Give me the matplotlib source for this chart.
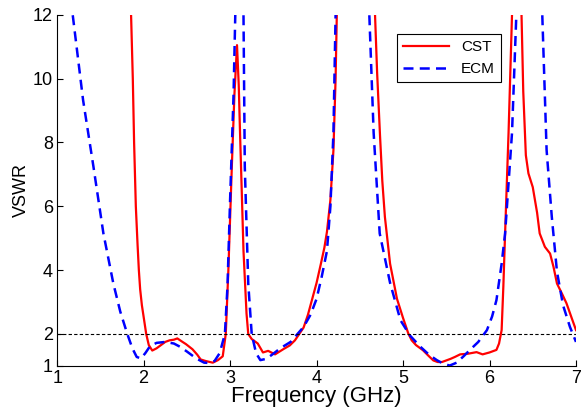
import numpy as np
import matplotlib
matplotlib.use('Agg')
import matplotlib.pyplot as plt

plt.rcParams['font.family'] = ['Liberation Sans', 'DejaVu Sans']

# CST (simulado)
cst_f = [1.83, 1.855, 1.875, 1.89, 1.91, 1.93, 1.945, 1.96, 1.98, 2.03, 2.06, 2.1, 2.15, 2.2, 2.25,
         2.3, 2.35, 2.39, 2.45, 2.49, 2.565, 2.62, 2.66, 2.72, 2.8, 2.86, 2.915, 2.95,
         2.98, 3.02, 3.05, 3.08, 3.1, 3.115, 3.155, 3.19, 3.21, 3.25, 3.32, 3.38, 3.44,
         3.52, 3.62, 3.69, 3.75, 3.8, 3.85, 3.9, 3.96, 4.0, 4.05, 4.09, 4.12, 4.16, 4.195, 4.22,
         4.234, 4.26, 4.65, 4.676, 4.7, 4.734, 4.76, 4.79, 4.85, 4.93, 5.0, 5.06, 5.1, 5.15,
         5.23, 5.3, 5.35, 5.4, 5.45, 5.5, 5.55, 5.6, 5.66, 5.75, 5.85, 5.92, 6.0, 6.08,
         6.11, 6.14, 6.16, 6.18, 6.22, 6.26, 6.28, 6.35, 6.37, 6.39, 6.42, 6.45, 6.5,
         6.55, 6.58, 6.64, 6.7, 6.74, 6.78, 6.84, 6.89, 6.95, 7.0]
cst_vswr = [14, 12, 10, 8, 6, 4.8, 4, 3.4, 2.9, 2, 1.65, 1.48, 1.55, 1.65, 1.75,
            1.8, 1.82, 1.86, 1.75, 1.68, 1.52, 1.35, 1.2, 1.15, 1.1, 1.18, 1.3, 2.0,
            4.0, 7.24, 9.5, 11.05, 9.8, 8.3, 4.6, 2.64, 2.0, 1.84, 1.7, 1.42, 1.47,
            1.36, 1.53, 1.64, 1.8, 2.0, 2.2, 2.6, 3.2, 3.6, 4.2, 4.7, 5.2, 6.2, 7.76, 10,
            12, 15, 15, 12, 10.2, 8.2, 6.8, 5.67, 4.2, 3.1, 2.5, 2.02, 1.8, 1.65,
            1.49, 1.3, 1.17, 1.12, 1.12, 1.17, 1.22, 1.28, 1.36, 1.38, 1.43, 1.36, 1.42, 1.5,
            1.7, 2.12, 3.5, 5.15, 8.3, 12, 15, 15, 12, 9.6, 7.6, 7.03, 6.6,
            5.8, 5.15, 4.73, 4.52, 4.1, 3.58, 3.25, 2.96, 2.5, 2.12]

# ECM (circuito equivalente)
ecm_f = [1.17, 1.18, 1.3, 1.42, 1.535, 1.65, 1.73, 1.81, 1.87, 1.92, 1.97, 2.02, 2.075,
         2.15, 2.25, 2.35, 2.42, 2.5, 2.61, 2.7, 2.76, 2.82, 2.88, 2.94, 2.97, 3.0,
         3.04, 3.06, 3.08, 3.13, 3.155, 3.17, 3.21, 3.25, 3.3, 3.35, 3.42, 3.5, 3.58,
         3.7, 3.85, 3.93, 4.0, 4.06, 4.12, 4.16, 4.195, 4.22, 4.24, 4.59, 4.61, 4.66,
         4.73, 4.85, 4.97, 5.08, 5.2, 5.3, 5.39, 5.47, 5.54, 5.62, 5.7, 5.77, 5.87,
         5.97, 6.03, 6.08, 6.14, 6.18, 6.26, 6.31, 6.33, 6.59, 6.61, 6.66, 6.72, 6.78,
         6.85, 6.93, 7.0]
ecm_vswr = [13, 12, 9.33, 7.24, 5.15, 3.58, 2.7, 2.01, 1.55, 1.28, 1.23, 1.4, 1.62,
            1.72, 1.75, 1.7, 1.6, 1.45, 1.23, 1.1, 1.09, 1.15, 1.4, 2.0, 3.5, 6.2,
            9.5, 12, 16, 16, 12, 7.24, 3.58, 2.0, 1.4, 1.18, 1.22, 1.38, 1.55,
            1.75, 2.22, 2.6, 3.1, 3.8, 4.6, 6.0, 8.3, 12, 16, 16, 12, 8.3,
            5.15, 3.6, 2.43, 1.95, 1.6, 1.35, 1.18, 1.06, 1.01, 1.1, 1.3, 1.49, 1.75,
            2.12, 2.55, 3.06, 4.2, 5.15, 8.3, 12, 16, 16, 12, 7.76, 5.67, 3.95,
            2.9, 2.22, 1.75]

fig = plt.figure(figsize=(5.83, 4.12), dpi=100)
ax = fig.add_axes([0.098, 0.112, 0.89, 0.852])

ax.plot(cst_f, cst_vswr, color='red', lw=1.6, label='CST')
ax.plot(ecm_f, ecm_vswr, color='blue', lw=1.8, ls=(0, (4, 2.5)), label='ECM')
ax.axhline(2, color='black', lw=0.8, ls=(0, (3, 2)))

ax.set_xlim(1, 7)
ax.set_ylim(1, 12)
ax.set_xticks([1, 2, 3, 4, 5, 6, 7])
ax.set_yticks([1, 2, 4, 6, 8, 10, 12])
ax.tick_params(direction='in', length=4, width=0.8, labelsize=13, pad=3)
ax.spines['top'].set_visible(False)
ax.spines['right'].set_visible(False)

ax.set_xlabel('Frequency (GHz)', fontsize=16, labelpad=-1)
ax.set_ylabel('VSWR', fontsize=13, labelpad=2)

leg = ax.legend(loc='upper right', bbox_to_anchor=(0.855, 0.945), fontsize=11,
                handlelength=3.0, fancybox=False, framealpha=1, edgecolor='black',
                borderaxespad=0)
leg.get_frame().set_linewidth(0.8)

plt.savefig('out.png', dpi=100)
